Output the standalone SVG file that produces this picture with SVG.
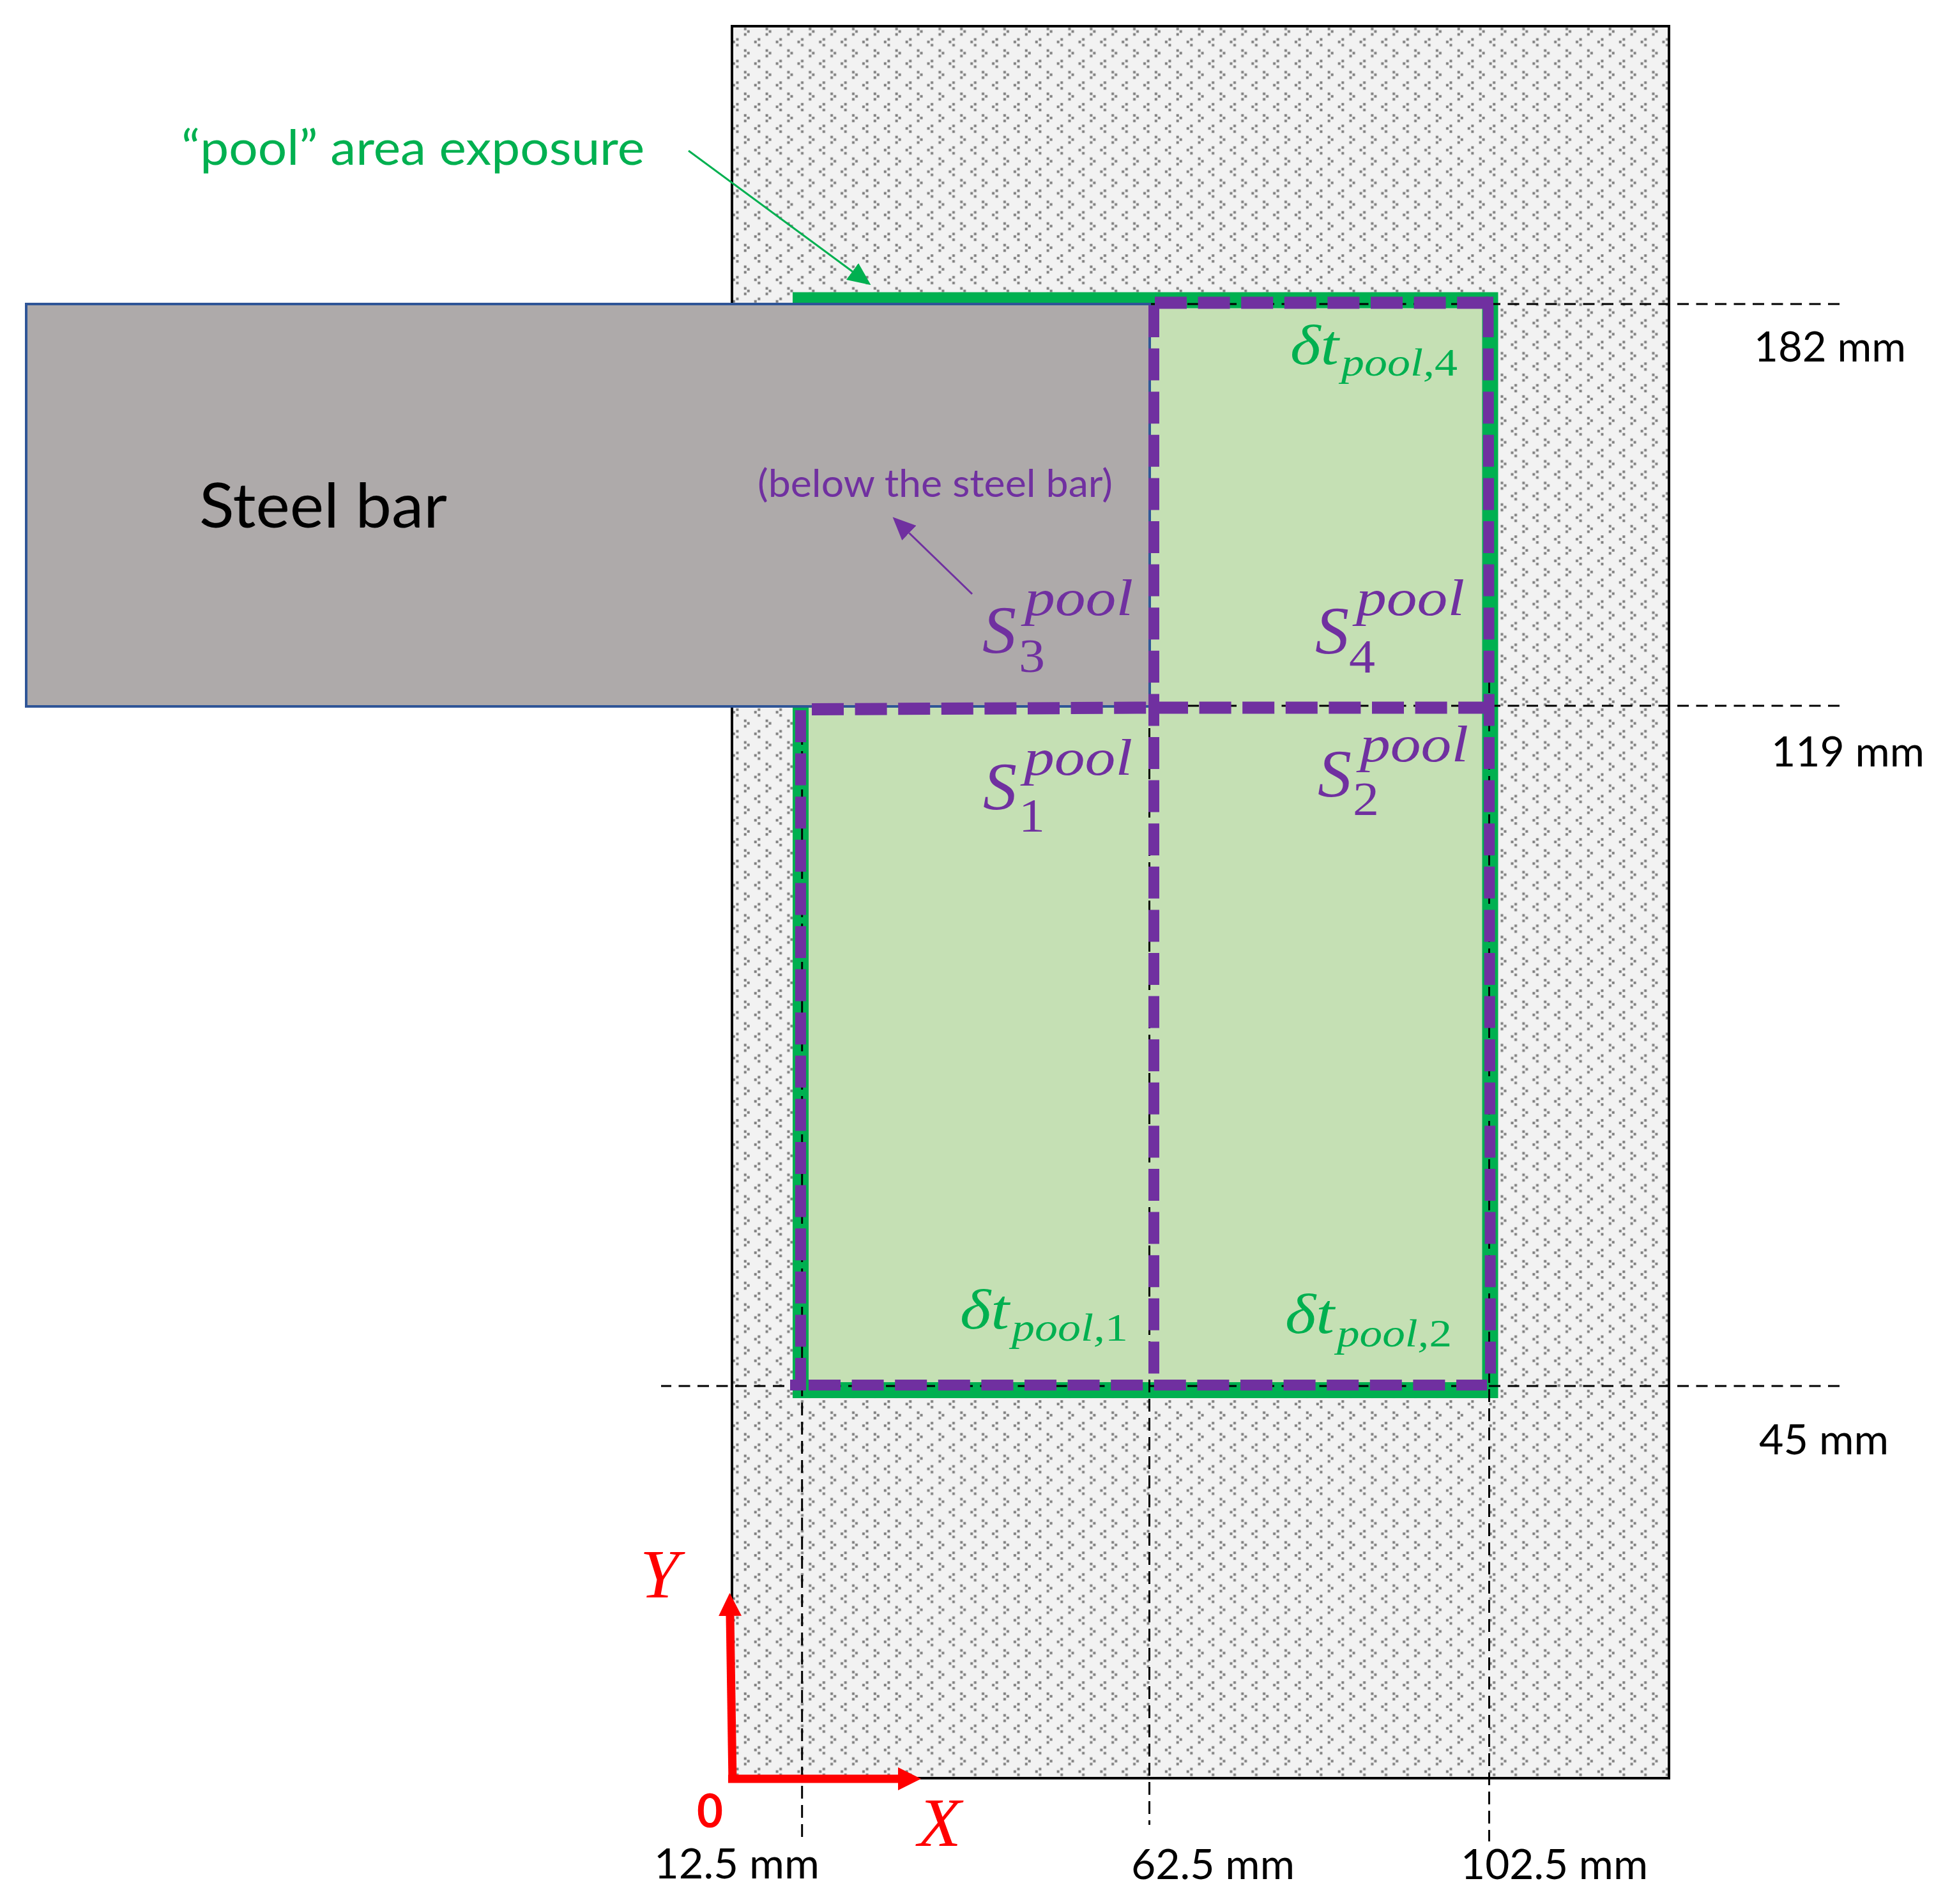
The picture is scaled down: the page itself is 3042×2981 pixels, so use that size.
<svg xmlns="http://www.w3.org/2000/svg" width="3042" height="2981" viewBox="0 0 3042 2981">
<style>
.sans{font-family:"Lato","Open Sans","Liberation Sans",sans-serif}
.math{font-family:"Liberation Serif","DejaVu Serif",serif;font-style:italic}
.up{font-family:"Liberation Serif","DejaVu Serif",serif;font-style:normal}
.dim{font-size:66px;fill:#000}
.pur{fill:#7030A0}
.grn{fill:#00B050}
.red{fill:#FF0000}
.S{font-size:106px}
.sup{font-size:80px}
.sub{font-size:74px}
.dt{font-size:88px}
.dts{font-size:62px}
.bk{fill:none;stroke:#000;stroke-width:3}
.bkh{stroke-dasharray:18 11.5}
.bkv{stroke-dasharray:20 10}
.pd{fill:none;stroke:#7030A0;stroke-width:17;stroke-dasharray:50 17.6}
.pdh{stroke-width:19}
</style>
<defs>
<pattern id="dots" patternUnits="userSpaceOnUse" x="1160" y="176" width="33.85" height="33.85">
<rect width="33.85" height="33.85" fill="#F2F2F2"/>
<g fill="#7F7F7F">
<rect x="4.7" y="2.7" width="4" height="4"/><rect x="9.7" y="6.7" width="4" height="4"/><rect x="4.7" y="11.3" width="4" height="4"/>
<rect x="26.3" y="19.1" width="4" height="4"/><rect x="20.7" y="23.1" width="4" height="4"/><rect x="26.3" y="28.1" width="4" height="4"/>
</g>
</pattern>
<marker id="hG" markerUnits="userSpaceOnUse" markerWidth="36" markerHeight="32" refX="0" refY="16" orient="auto"><path d="M0,0L36,16L0,32Z" fill="#00B050"/></marker>
<marker id="hP" markerUnits="userSpaceOnUse" markerWidth="36" markerHeight="32" refX="0" refY="16" orient="auto"><path d="M0,0L36,16L0,32Z" fill="#7030A0"/></marker>
<marker id="hR" markerUnits="userSpaceOnUse" markerWidth="36" markerHeight="36" refX="0" refY="18" orient="auto"><path d="M0,0L36,18L0,36Z" fill="#FF0000"/></marker>
</defs>

<g id="specimen"><rect x="1146" y="41" width="1467" height="2743" fill="url(#dots)" stroke="#000" stroke-width="4"/></g>
<g id="pool-area"><rect x="1253.5" y="470" width="1079.5" height="1706.5" fill="#C5E0B4" stroke="#00B050" stroke-width="25"/></g>

<g id="dimension-lines">
<path class="bk bkh" d="M2880,476H1802"/>
<path class="bk bkh" d="M2880,1105H1802"/>
<path class="bk bkh" d="M2880,2170H1035"/>
<path class="bk bkv" d="M1255.7,1116V2881"/>
<path class="bk bkv" d="M1799.5,1110V2857"/>
<path class="bk bkv" d="M2331.5,1065V2883"/>
</g>

<g id="steel-bar"><rect x="41" y="476" width="1759" height="630" fill="#AEAAAA" stroke="#2F5597" stroke-width="4"/>
<text class="sans" x="312" y="826" font-size="96" fill="#000" textLength="388" lengthAdjust="spacingAndGlyphs">Steel bar</text></g>

<g id="sub-areas">
<path class="pd" d="M1253.5,1112V2160"/>
<path class="pd" d="M1806.5,478V2152"/>
<path class="pd" d="M2330,478L2333.5,2152"/>
<path class="pd pdh" d="M1808,474H2332"/>
<path class="pd pdh" d="M1271,1110.5L1799,1108"/>
<path class="pd pdh" d="M1810,1108H2340"/>
<path class="pd" d="M1266,2168.5H2328"/>
<path d="M1237,2168.5H1262" fill="none" stroke="#7030A0" stroke-width="17"/>
<path d="M2325,474H2338" fill="none" stroke="#7030A0" stroke-width="19"/>
</g>

<g id="connectors" fill="none">
<path d="M1078,236L1334.5,425" stroke="#00B050" stroke-width="3" marker-end="url(#hG)"/>
<path d="M1522,930L1423.4,834.5" stroke="#7030A0" stroke-width="3" marker-end="url(#hP)"/>
<path d="M1147,2791L1143,2530" stroke="#FF0000" stroke-width="13" marker-end="url(#hR)"/>
<path d="M1140,2785H1406" stroke="#FF0000" stroke-width="13" marker-end="url(#hR)"/>
</g>

<g id="label-pool"><text class="sans grn" x="284" y="258" font-size="76" textLength="725" lengthAdjust="spacingAndGlyphs">“pool” area exposure</text></g>
<g id="label-below"><text class="sans pur" x="1186" y="778" font-size="60" textLength="556" lengthAdjust="spacingAndGlyphs">(below the steel bar)</text></g>

<g id="S3" class="pur">
<text class="math S" x="1538" y="1022">S</text><text class="up sub" x="1595" y="1052" textLength="41" lengthAdjust="spacingAndGlyphs">3</text><text class="math sup" x="1604" y="963" textLength="170" lengthAdjust="spacingAndGlyphs">pool</text></g>
<g id="S4" class="pur">
<text class="math S" x="2059" y="1023">S</text><text class="up sub" x="2112" y="1053" textLength="41" lengthAdjust="spacingAndGlyphs">4</text><text class="math sup" x="2123" y="963" textLength="170" lengthAdjust="spacingAndGlyphs">pool</text></g>
<g id="S1" class="pur">
<text class="math S" x="1539" y="1267">S</text><text class="up sub" x="1595" y="1302" textLength="41" lengthAdjust="spacingAndGlyphs">1</text><text class="math sup" x="1603" y="1213" textLength="170" lengthAdjust="spacingAndGlyphs">pool</text></g>
<g id="S2" class="pur">
<text class="math S" x="2063" y="1247">S</text><text class="up sub" x="2118" y="1276" textLength="41" lengthAdjust="spacingAndGlyphs">2</text><text class="math sup" x="2129" y="1192" textLength="170" lengthAdjust="spacingAndGlyphs">pool</text></g>

<g id="dt1" class="grn"><text class="math dt" x="1503" y="2080" textLength="77" lengthAdjust="spacingAndGlyphs">δt</text><text class="math dts" x="1584" y="2099" textLength="182" lengthAdjust="spacingAndGlyphs">pool,<tspan class="up">1</tspan></text></g>
<g id="dt2" class="grn"><text class="math dt" x="2012" y="2087" textLength="77" lengthAdjust="spacingAndGlyphs">δt</text><text class="math dts" x="2093" y="2108" textLength="180" lengthAdjust="spacingAndGlyphs">pool,<tspan class="up">2</tspan></text></g>
<g id="dt4" class="grn"><text class="math dt" x="2020" y="570" textLength="76" lengthAdjust="spacingAndGlyphs">δt</text><text class="math dts" x="2100" y="588" textLength="182" lengthAdjust="spacingAndGlyphs">pool,<tspan class="up">4</tspan></text></g>

<g id="dim-182"><text class="sans dim" x="2746" y="566" textLength="238" lengthAdjust="spacingAndGlyphs">182 mm</text></g>
<g id="dim-119"><text class="sans dim" x="2773" y="1200" textLength="240" lengthAdjust="spacingAndGlyphs">119 mm</text></g>
<g id="dim-45"><text class="sans dim" x="2754" y="2277" textLength="203" lengthAdjust="spacingAndGlyphs">45 mm</text></g>
<g id="dim-12-5"><text class="sans dim" x="1024" y="2941" textLength="259" lengthAdjust="spacingAndGlyphs">12.5 mm</text></g>
<g id="dim-62-5"><text class="sans dim" x="1771" y="2942" textLength="256" lengthAdjust="spacingAndGlyphs">62.5 mm</text></g>
<g id="dim-102-5"><text class="sans dim" x="2287" y="2942" textLength="293" lengthAdjust="spacingAndGlyphs">102.5 mm</text></g>

<g id="axes-labels" class="red">
<text class="math" x="1002" y="2501" font-size="108" textLength="61" lengthAdjust="spacingAndGlyphs">Y</text>
<text class="math" x="1437" y="2890" font-size="108" textLength="68" lengthAdjust="spacingAndGlyphs">X</text>
<text class="sans" x="1091" y="2861" font-size="72" font-weight="700" textLength="41" lengthAdjust="spacingAndGlyphs">0</text>
</g>
</svg>
